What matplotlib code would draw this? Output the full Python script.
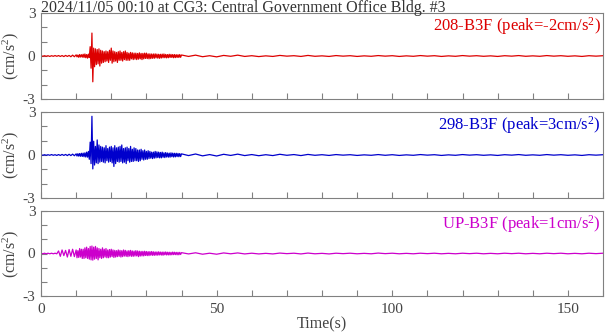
import numpy as np
import matplotlib
matplotlib.use("Agg")
import matplotlib.pyplot as plt
from matplotlib.ticker import MultipleLocator

plt.rcParams['font.family'] = ['Liberation Serif', 'DejaVu Serif']
plt.rcParams['mathtext.default'] = 'regular'

title = "2024/11/05 00:10 at CG3: Central Government Office Bldg. #3"
channels = ["208-B3F", "298-B3F", "UP-B3F"]
colors = ["#dd0000", "#0000cc", "#cc00cc"]

# sample times: 0-10 s every 0.5 s, 10-40 s every 0.25 s, 40-160 s every 2 s
t = np.concatenate([np.arange(0, 10, 0.5), np.arange(10, 40, 0.25), np.arange(40, 161, 2)])

acc_208 = [
    0.02, -0.02, 0.02, -0.02, 0.02, -0.03, 0.02, -0.02, 0.03, -0.02,
    0.03, -0.03, 0.03, -0.04, 0.04, -0.03, 0.04, -0.05, 0.06, -0.05,
    # 10-40 s
    0.08, -0.06, 0.07, -0.09, 0.1, -0.07, 0.09, -0.08,
    0.12, -0.1, 0.14, -0.12, 0.1, -0.15, 0.13, -0.11,
    0.65, -0.85, 1.6, -1.8,
    0.55, -0.75, 0.5, -0.6,
    0.45, -0.55, 0.5, -0.7,
    0.4, -0.5, 0.35, -0.45,
    0.3, -0.4, 0.35, -0.35,
    0.3, -0.45, 0.4, -0.3,
    0.55, -0.5, 0.35, -0.4,
    0.3, -0.35, 0.25, -0.45,
    0.3, -0.3, 0.35, -0.3,
    0.25, -0.35, 0.3, -0.25,
    0.35, -0.3, 0.25, -0.3,
    0.2, -0.3, 0.25, -0.2,
    0.22, -0.25, 0.2, -0.22,
    0.2, -0.25, 0.18, -0.22,
    0.22, -0.2, 0.18, -0.25,
    0.18, -0.2, 0.2, -0.17,
    0.2, -0.18, 0.15, -0.2,
    0.15, -0.18, 0.14, -0.16,
    0.14, -0.16, 0.15, -0.13,
    0.13, -0.15, 0.12, -0.16,
    0.12, -0.14, 0.13, -0.12,
    0.14, -0.12, 0.11, -0.13,
    0.1, -0.12, 0.12, -0.1,
    0.11, -0.1, 0.1, -0.12,
    0.1, -0.11, 0.09, -0.1,
    0.09, -0.1, 0.1, -0.09,
    # 40-160 s
    0.07, -0.03, 0.06, -0.05, 0.02, -0.06, 0.04, -0.02, 0.06, -0.03,
    0.02, -0.04, 0.01, -0.03, 0.04, -0.01, 0.02, -0.03, 0.04, -0.02,
    0.01, -0.03, 0.03, -0.01, 0.02, -0.03, 0.01, -0.02, 0.03, -0.01,
    0.02, -0.03, 0.01, -0.02, 0.03, -0.01, 0.02, -0.03, 0.01, -0.02,
    0.03, -0.01, 0.02, -0.02, 0.01, -0.03, 0.02, -0.01, 0.03, -0.02,
    0.01, -0.02, 0.03, -0.01, 0.02, -0.02, 0.01, -0.03, 0.02, -0.01, 0.02,
]

acc_298 = [
    0.02, -0.02, 0.02, -0.02, 0.02, -0.02, 0.03, -0.02, 0.02, -0.03,
    0.03, -0.03, 0.04, -0.03, 0.04, -0.04, 0.05, -0.04, 0.06, -0.05,
    # 10-40 s
    0.08, -0.07, 0.09, -0.08,
    0.1, -0.09, 0.12, -0.1,
    0.13, -0.12, 0.15, -0.14,
    0.2, -0.15, 0.25, -0.3,
    0.9, -0.6, 2.7, -0.97,
    0.96, -0.7, 0.6, -0.55,
    1.05, -0.6, 0.7, -0.5,
    0.6, -0.45, 0.55, -0.5,
    0.5, -0.55, 0.65, -0.4,
    0.45, -0.5, 0.55, -0.45,
    0.6, -0.55, 0.5, -0.8,
    0.65, -0.6, 0.5, -0.45,
    0.55, -0.5, 0.6, -0.45,
    0.7, -0.55, 0.45, -0.5,
    0.5, -0.6, 0.55, -0.4,
    0.45, -0.5, 0.6, -0.45,
    0.4, -0.45, 0.5, -0.4,
    0.45, -0.4, 0.35, -0.45,
    0.35, -0.4, 0.4, -0.3,
    0.3, -0.35, 0.35, -0.3,
    0.25, -0.3, 0.3, -0.25,
    0.25, -0.22, 0.2, -0.25,
    0.2, -0.22, 0.25, -0.2,
    0.22, -0.18, 0.2, -0.2,
    0.18, -0.2, 0.2, -0.16,
    0.15, -0.18, 0.17, -0.14,
    0.14, -0.15, 0.13, -0.15,
    0.15, -0.12, 0.13, -0.14,
    0.12, -0.13, 0.12, -0.11,
    0.11, -0.12, 0.1, -0.11,
    # 40-160 s
    0.08, -0.04, 0.07, -0.06, 0.03, -0.07, 0.05, -0.03, 0.06, -0.04,
    0.03, -0.05, 0.02, -0.04, 0.05, -0.02, 0.03, -0.04, 0.04, -0.02,
    0.02, -0.03, 0.03, -0.01, 0.02, -0.03, 0.01, -0.02, 0.03, -0.02,
    0.02, -0.03, 0.01, -0.02, 0.03, -0.01, 0.02, -0.03, 0.01, -0.02,
    0.03, -0.01, 0.02, -0.02, 0.01, -0.03, 0.02, -0.01, 0.03, -0.02,
    0.01, -0.02, 0.03, -0.01, 0.02, -0.02, 0.01, -0.03, 0.02, -0.01, 0.02,
]

acc_up = [
    0.02, -0.02, 0.02, -0.02, 0.02, -0.02, 0.02, -0.02, 0.02, -0.02,
    0.18, -0.2, 0.25, -0.15, 0.22, -0.25, 0.28, -0.2, 0.3, -0.22,
    # 10-40 s
    0.25, -0.3, 0.2, -0.28,
    0.35, -0.25, 0.3, -0.35,
    0.3, -0.35, 0.4, -0.3,
    0.45, -0.35, 0.35, -0.4,
    0.5, -0.45, 0.53, -0.47,
    0.45, -0.4, 0.5, -0.35,
    0.4, -0.45, 0.35, -0.3,
    0.3, -0.35, 0.4, -0.3,
    0.3, -0.25, 0.35, -0.3,
    0.25, -0.3, 0.28, -0.25,
    0.3, -0.22, 0.25, -0.28,
    0.22, -0.25, 0.2, -0.22,
    0.25, -0.2, 0.22, -0.25,
    0.2, -0.22, 0.25, -0.18,
    0.22, -0.2, 0.18, -0.22,
    0.2, -0.18, 0.22, -0.2,
    0.18, -0.2, 0.17, -0.18,
    0.2, -0.17, 0.18, -0.22,
    0.16, -0.18, 0.15, -0.17,
    0.15, -0.17, 0.16, -0.14,
    0.14, -0.15, 0.13, -0.15,
    0.13, -0.12, 0.14, -0.13,
    0.12, -0.13, 0.11, -0.12,
    0.11, -0.12, 0.12, -0.1,
    0.1, -0.11, 0.1, -0.12,
    0.1, -0.09, 0.11, -0.1,
    0.09, -0.1, 0.09, -0.1,
    0.08, -0.09, 0.1, -0.08,
    0.09, -0.08, 0.08, -0.09,
    0.08, -0.09, 0.08, -0.07,
    # 40-160 s
    0.06, -0.03, 0.05, -0.05, 0.02, -0.05, 0.04, -0.02, 0.04, -0.03,
    0.02, -0.03, 0.01, -0.03, 0.03, -0.01, 0.02, -0.03, 0.03, -0.02,
    0.01, -0.03, 0.02, -0.01, 0.02, -0.02, 0.01, -0.02, 0.03, -0.01,
    0.02, -0.02, 0.01, -0.02, 0.02, -0.01, 0.02, -0.02, 0.01, -0.02,
    0.02, -0.01, 0.02, -0.02, 0.01, -0.02, 0.02, -0.01, 0.02, -0.02,
    0.01, -0.02, 0.02, -0.01, 0.02, -0.02, 0.01, -0.02, 0.02, -0.01, 0.02,
]

traces = [acc_208, acc_298, acc_up]

W, H = 605, 334
fig = plt.figure(figsize=(W / 100, H / 100), dpi=100)

left, right = 41, 603
panels = [(13, 99), (112, 198), (211, 296)]
grey = "#808080"
txt = "#444444"

for k, (top, bot) in enumerate(panels):
    ax = fig.add_axes([left / W, 1 - bot / H, (right - left) / W, (bot - top) / H])
    y = np.array(traces[k])
    ax.plot(t, y, color=colors[k], lw=0.9)
    ax.set_xlim(0, 160)
    ax.set_ylim(-3, 3)

    ax.set_yticks([-3, 0, 3])
    ax.set_yticklabels(["-3", "0", "3"])
    ax.yaxis.set_minor_locator(MultipleLocator(1))
    ax.set_xticks([0, 50, 100, 150])
    ax.xaxis.set_minor_locator(MultipleLocator(10))
    ax.tick_params(which="both", direction="in", color=grey, labelcolor=txt,
                   labelsize=11, top=False, right=False, length=4, width=0.8)
    ax.tick_params(axis="y", pad=4)
    ax.tick_params(axis="x", pad=5)
    for s in ax.spines.values():
        s.set_color(grey)
        s.set_linewidth(0.8)

    if k < 2:
        ax.set_xticklabels([])
    else:
        ax.set_xlabel("Time(s)", fontsize=11.5, color=txt, labelpad=0)

    ax.set_ylabel("(cm/s$^2$)", fontsize=11.5, color=txt)
    ax.yaxis.set_label_coords(-0.036, 0.5)

    peak = y[np.argmax(np.abs(y))]
    ax.text(0.996, 0.975, f"{channels[k]} (peak={int(round(peak))}cm/s$^2$)",
            transform=ax.transAxes, ha="right", va="top", fontsize=12, color=colors[k])

fig.text(left / W, 1, title, ha="left", va="top", fontsize=11.5, color="#333333")

fig.savefig("out.png", dpi=100)
